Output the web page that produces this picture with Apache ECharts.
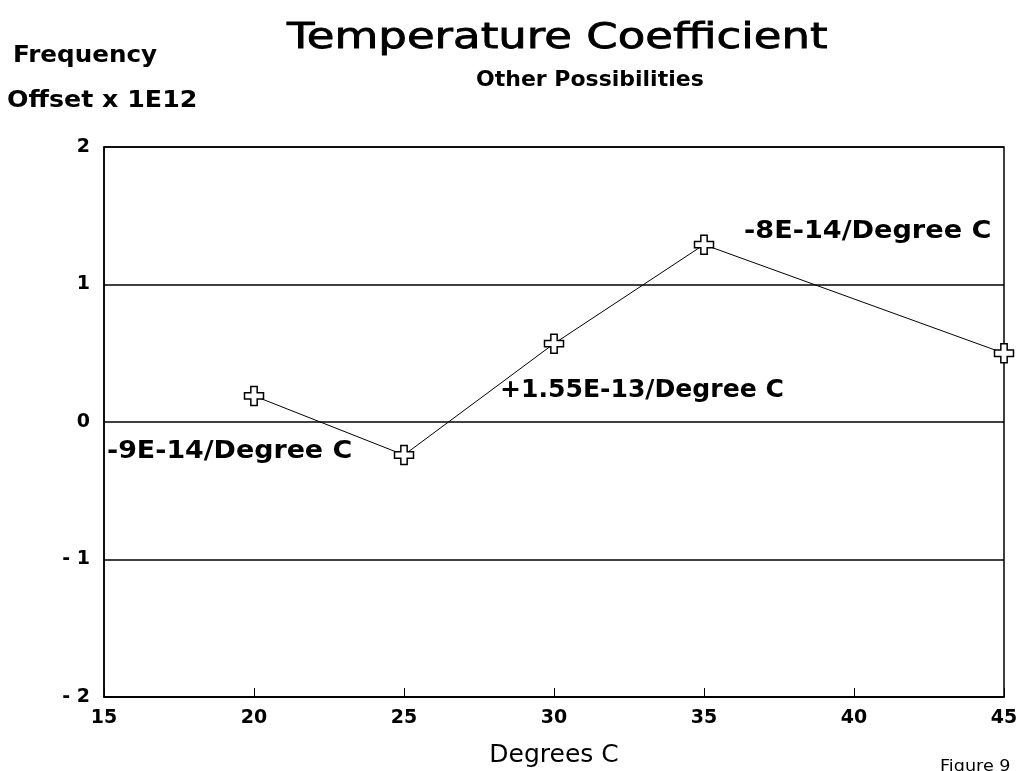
<!DOCTYPE html>
<html><head><meta charset="utf-8">
<script src="https://cdn.jsdelivr.net/npm/echarts@6/dist/echarts.min.js"></script>
<style>html,body{margin:0;padding:0;background:#fff}#c{width:1029px;height:771px}</style>
</head><body><div id="c"></div>
<script>
const temperatures = [20, 25, 30, 35, 45];
const offsets = [0.19, -0.24, 0.57, 1.29, 0.50];
const yTickLabels = {'-2':'- 2','-1':'- 1','0':'0','1':'1','2':'2'};
const slopeLabels = ['-9E-14/Degree C', '+1.55E-13/Degree C', '-8E-14/Degree C'];

const F = '"DejaVu Sans", Verdana, sans-serif';
const chart = echarts.init(document.getElementById('c'));
const cross = 'path://M-1,-3L1,-3L1,-1L3,-1L3,1L1,1L1,3L-1,3L-1,1L-3,1L-3,-1L-1,-1Z';
function txt(text, x, y, font, sx, sw) {
  const st = {text: text, x: 0, y: 0, font: font, fill: '#000', verticalAlign: 'top', align: 'left'};
  if (sw) { st.stroke = '#000'; st.lineWidth = sw; }
  return {type: 'text', x: x, y: y, scaleX: sx, z: 10, style: st};
}
chart.setOption({
  animation: false,
  backgroundColor: '#fff',
  grid: {left: 104, right: 25, top: 147, bottom: 74, show: true, borderColor: '#000', borderWidth: 1.5,
    outerBoundsMode: 'none', containLabel: false},
  xAxis: {
    type: 'value', min: 15, max: 45, interval: 5,
    axisLine: {show: true, onZero: false, lineStyle: {color: '#000', width: 1.5}},
    axisTick: {show: true, inside: true, length: 9, lineStyle: {color: '#000', width: 1}},
    axisLabel: {color: '#000', fontFamily: F, fontWeight: 'bold', fontSize: 19, margin: 12},
    splitLine: {show: false},
    name: 'Degrees C', nameLocation: 'middle', nameGap: 46,
    nameTextStyle: {color: '#000', fontFamily: F, fontSize: 25}
  },
  yAxis: {
    type: 'value', min: -2, max: 2, interval: 1,
    axisLine: {show: true, lineStyle: {color: '#000', width: 1.5}},
    axisTick: {show: false},
    axisLabel: {color: '#000', fontFamily: F, fontWeight: 'bold', fontSize: 19, margin: 14,
      formatter: v => yTickLabels[String(v)]},
    splitLine: {show: true, lineStyle: {color: '#000', width: 1.5}}
  },
  series: [{
    type: 'line',
    data: temperatures.map((t, i) => [t, offsets[i]]),
    lineStyle: {color: '#000', width: 1},
    symbol: cross, symbolSize: 19,
    itemStyle: {color: '#fff', borderColor: '#000', borderWidth: 1.5},
    z: 5
  }],
  graphic: [
    txt('Temperature Coefficient', 287, 21, 'normal 36px ' + F, 1.25, 0.8),
    txt('Other Possibilities', 476, 69, 'bold 22px ' + F, 1.0),
    txt('Frequency', 13, 45, 'bold 23px ' + F, 1.07),
    txt('Offset x 1E12', 7, 90, 'bold 23px ' + F, 1.1),
    txt(slopeLabels[0], 107, 440, 'bold 24px ' + F, 1.12),
    txt(slopeLabels[1], 500, 379, 'bold 24px ' + F, 1.045),
    txt(slopeLabels[2], 744, 220, 'bold 24px ' + F, 1.13),
    txt('Figure 9', 940, 759, 'normal 16px ' + F, 1.1)
  ]
});
</script></body></html>
